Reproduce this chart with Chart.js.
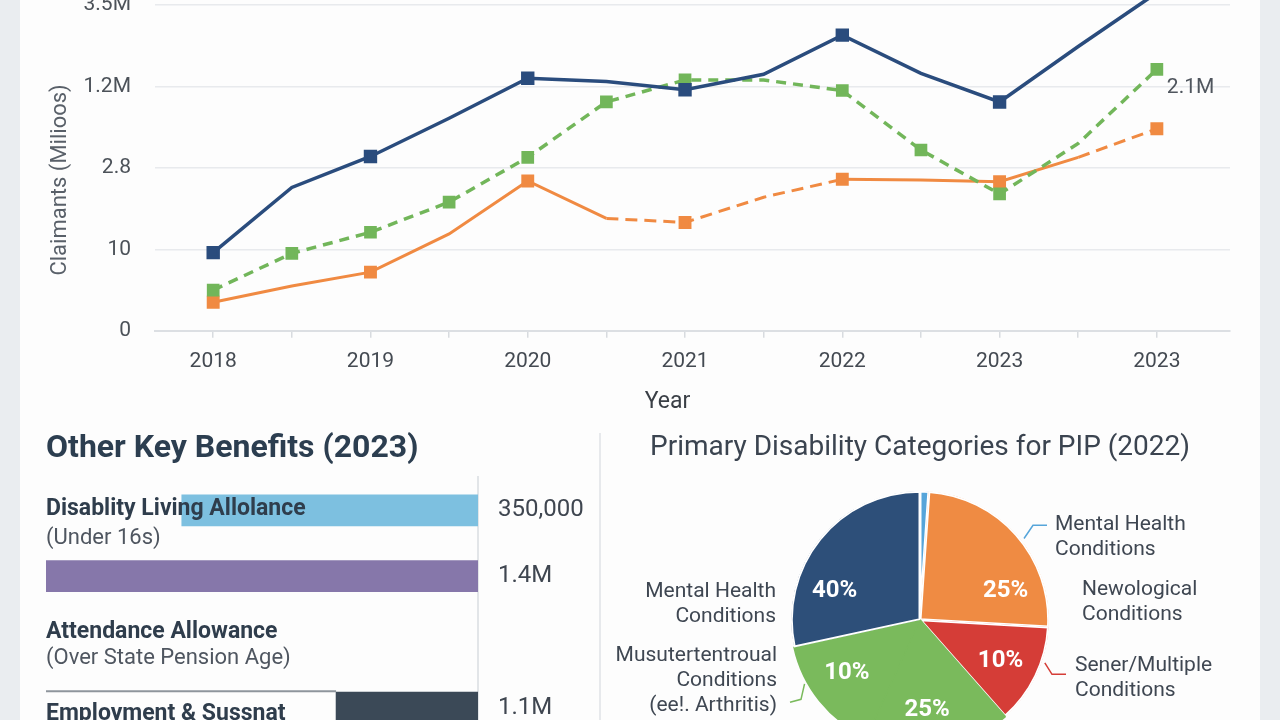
<!DOCTYPE html>
<html>
<head>
<meta charset="utf-8">
<title>Disability benefit claimants</title>
<script src="https://cdn.jsdelivr.net/npm/chart.js@4.4.1/dist/chart.umd.min.js"></script>
<style>
  html, body { margin: 0; padding: 0; }
  body { width: 1280px; height: 720px; overflow: hidden; position: relative; background: #eaedf0; font-family: Roboto, sans-serif; }
  .card { position: absolute; left: 20px; top: 0; width: 1240px; height: 720px; background: #fdfdfd; }
  .box { position: absolute; }
  #trendBox { left: 20px; top: -40px; width: 1240px; height: 460px; }
  #benefitBox { left: 20px; top: 420px; width: 580px; height: 355px; }
  #pieBox { left: 600px; top: 420px; width: 660px; height: 355px; }
  .divider { position: absolute; left: 599px; top: 433px; width: 2px; height: 300px; background: #e7e9ec; }
</style>
</head>
<body>
<div class="card"></div>
<div class="divider"></div>
<div class="box" id="trendBox"><canvas id="trendChart"></canvas></div>
<div class="box" id="benefitBox"><canvas id="benefitChart"></canvas></div>
<div class="box" id="pieBox"><canvas id="pieChart"></canvas></div>
<script>
// Line chart: half-year steps, only full years carry a label
const trendPeriods = ['2018', '', '2019', '', '2020', '', '2021', '', '2022', '', '2023', '', '2023'];
const trendTicks = ['0', '10', '2.8', '1.2M', '3.5M'];
const navySeries = [0.96, 1.76, 2.14, 2.61, 3.10, 3.06, 2.96, 3.15, 3.63, 3.16, 2.81, 3.49, 4.15];
const orangeSeries = [0.35, 0.55, 0.72, 1.19, 1.84, 1.38, 1.33, 1.64, 1.86, 1.85, 1.83, 2.13, 2.48];
const greenSeries = [0.50, 0.95, 1.21, 1.58, 2.13, 2.81, 3.08, 3.08, 2.95, 2.22, 1.68, 2.30, 3.21];
const orangeDashedSegments = [5, 6, 7, 11];
const greenEndLabel = '2.1M';

// Other key benefits (values in millions)
const benefitRows = ['Disablity Living Allolance', '', 'Attendance Allowance', 'Employment & Sussnat'];
const benefitNotes = ['(Under 16s)', '', '(Over State Pension Age)', ''];
const benefitBars = [0.96, 1.40, null, 0.46];
const benefitValueLabels = ['350,000', '1.4M', '', '1.1M'];

// PIP disability categories (share of the circle)
const pieShares = [1.1, 24.8, 12.6, 18.3, 14.8, 28.4];
const piePercentLabels = ['', '25%', '10%', '25%', '10%', '40%'];
const pieCategories = [
  ['Mental Health', 'Conditions'],
  ['Newological', 'Conditions'],
  ['Sener/Multiple', 'Conditions'],
  ['Musutertentroual', 'Conditions', '(ee!. Arthritis)'],
  [],
  ['Mental Health', 'Conditions']
];

Chart.defaults.font.family = 'Roboto, sans-serif';
Chart.defaults.color = '#4a5058';
Chart.defaults.animation = false;

const toPoints = arr => arr.map((y, x) => ({ x, y }));

// axis captions drawn by hand so they can sit off-centre like the original
const axisCaptions = {
  id: 'axisCaptions',
  afterDraw(chart, args, opts) {
    const { ctx, chartArea } = chart;
    ctx.save();
    ctx.textAlign = 'center';
    ctx.textBaseline = 'middle';
    ctx.font = '23px Roboto';
    ctx.fillStyle = '#3a3f46';
    ctx.fillText(opts.xText, (chartArea.left + chartArea.right) / 2 + opts.xShift, chartArea.bottom + opts.xGap);
    ctx.font = '22px Roboto';
    ctx.fillStyle = '#596069';
    ctx.translate(chartArea.left - opts.yGap, (chartArea.top + chartArea.bottom) / 2 + opts.yShift);
    ctx.rotate(-Math.PI / 2);
    ctx.fillText(opts.yText, 0, 0);
    ctx.restore();
  }
};

const endLabel = {
  id: 'endLabel',
  afterDatasetsDraw(chart, args, opts) {
    const pts = chart.getDatasetMeta(opts.dataset).data;
    const last = pts[pts.length - 1];
    const { ctx } = chart;
    ctx.save();
    ctx.font = '21px Roboto';
    ctx.fillStyle = '#50565e';
    ctx.textAlign = 'left';
    ctx.textBaseline = 'middle';
    ctx.fillText(opts.text, last.x + 10, last.y + 18);
    ctx.restore();
  }
};

new Chart(document.getElementById('trendChart'), {
  type: 'line',
  data: {
    datasets: [
      {
        label: 'PIP',
        data: toPoints(navySeries),
        borderColor: '#2a4c7d',
        backgroundColor: '#2a4c7d',
        borderWidth: 3.5,
        pointStyle: 'rect',
        pointRadius: ctx => ctx.dataIndex % 2 === 0 ? 7 : 0,
        clip: false
      },
      {
        label: 'Universal Credit (health)',
        data: toPoints(greenSeries),
        borderColor: '#72b65a',
        backgroundColor: '#72b65a',
        borderWidth: 3.5,
        borderDash: [10, 7],
        pointStyle: 'rect',
        pointRadius: ctx => (ctx.dataIndex === 7 || ctx.dataIndex === 11) ? 0 : 6.5,
        clip: false
      },
      {
        label: 'DLA',
        data: toPoints(orangeSeries),
        borderColor: '#f08a42',
        backgroundColor: '#f08a42',
        borderWidth: 3,
        pointStyle: 'rect',
        pointRadius: ctx => ctx.dataIndex % 2 === 0 ? 7 : 0,
        segment: {
          borderDash: ctx => orangeDashedSegments.includes(ctx.p0DataIndex) ? [12, 7] : undefined
        },
        clip: false
      }
    ]
  },
  options: {
    responsive: true,
    maintainAspectRatio: false,
    layout: { padding: { left: 0, right: 30, top: 45, bottom: 35 } },
    elements: { line: { tension: 0 } },
    scales: {
      x: {
        type: 'linear',
        min: -0.74,
        max: 12.93,
        afterBuildTicks: axis => { axis.ticks = trendPeriods.map((_, i) => ({ value: i })); },
        ticks: {
          callback: v => trendPeriods[v] || '',
          font: { size: 21 },
          color: '#444a52',
          padding: 11,
          autoSkip: false,
          maxRotation: 0
        },
        grid: { drawOnChartArea: false, drawTicks: true, tickLength: 7, color: '#d8dbdf', lineWidth: 1.5 },
        border: { display: true, color: '#dcdfe3', width: 2 }
      },
      y: {
        min: 0,
        max: 4,
        ticks: {
          stepSize: 1,
          callback: v => trendTicks[v],
          font: { size: 21 },
          color: '#4c5259',
          padding: 24
        },
        grid: { color: '#e8eaed', lineWidth: 1.5, drawTicks: false },
        border: { display: false },
        afterFit: axis => { axis.width = 135; }
      }
    },
    plugins: {
      legend: { display: false },
      tooltip: { enabled: false },
      axisCaptions: { xText: 'Year', xShift: -25, xGap: 71, yText: 'Claimants (Milioos)', yGap: 95, yShift: 12 },
      endLabel: { dataset: 1, text: greenEndLabel }
    }
  },
  plugins: [axisCaptions, endLabel]
});

// benefit names are written over the bars, at the left edge of the plot
const rowCaptions = {
  id: 'rowCaptions',
  afterDatasetsDraw(chart, args, opts) {
    const { ctx, chartArea, scales } = chart;
    const bars = chart.getDatasetMeta(0).data;
    ctx.save();
    opts.trackRows.forEach(i => {
      const bar = bars[i];
      ctx.strokeStyle = '#8e959c';
      ctx.lineWidth = 2;
      ctx.beginPath();
      ctx.moveTo(chartArea.left, bar.y - bar.height / 2 - 1);
      ctx.lineTo(bar.x, bar.y - bar.height / 2 - 1);
      ctx.stroke();
    });
    ctx.textAlign = 'left';
    ctx.textBaseline = 'middle';
    benefitRows.forEach((name, i) => {
      const cy = scales.y.getPixelForValue(i);
      const [dyName, dyNote] = opts.offsets[i];
      if (name) {
        ctx.font = 'bold 23px Roboto';
        ctx.fillStyle = '#2f3d4c';
        ctx.fillText(name, chartArea.left, cy + dyName);
      }
      if (benefitNotes[i]) {
        ctx.font = '22px Roboto';
        ctx.fillStyle = '#4f5660';
        ctx.fillText(benefitNotes[i], chartArea.left, cy + dyNote);
      }
    });
    ctx.restore();
  }
};

new Chart(document.getElementById('benefitChart'), {
  type: 'bar',
  data: {
    labels: benefitRows,
    datasets: [{
      label: 'Claimants 2023',
      data: benefitBars,
      backgroundColor: ['#7dc0e0', '#8677aa', 'rgba(0,0,0,0)', '#3b4957'],
      barThickness: 31
    }]
  },
  options: {
    indexAxis: 'y',
    responsive: true,
    maintainAspectRatio: false,
    layout: { padding: { left: 26, right: 0, top: 0, bottom: 0 } },
    scales: {
      x: { type: 'linear', reverse: true, min: 0, max: 1.4, display: false },
      y: {
        position: 'right',
        ticks: {
          callback: (v, i) => benefitValueLabels[i],
          font: { size: 24 },
          color: '#3f4650',
          padding: 20
        },
        grid: { display: true, drawOnChartArea: false, drawTicks: false },
        border: { display: true, color: '#e2e5e8', width: 2 },
        afterFit: axis => { axis.width = 122; }
      }
    },
    plugins: {
      legend: { display: false },
      tooltip: { enabled: false },
      title: {
        display: true,
        text: 'Other Key Benefits (2023)',
        align: 'start',
        color: '#2c3e50',
        font: { size: 32, weight: 'bold' },
        padding: { top: 10, bottom: 9 }
      },
      rowCaptions: { offsets: [[-1, 28], [0, 0], [-10, 17], [7, 0]], trackRows: [3] }
    }
  },
  plugins: [rowCaptions]
});

const pieColors = ['#56a5da', '#ef8b43', '#d53d37', '#7aba5c', '#7aba5c', '#2d4f79'];

const sliceLabels = {
  id: 'sliceLabels',
  afterDatasetsDraw(chart, args, opts) {
    const { ctx } = chart;
    ctx.save();
    ctx.font = 'bold 24px Roboto';
    ctx.fillStyle = '#ffffff';
    ctx.textAlign = 'center';
    ctx.textBaseline = 'middle';
    chart.getDatasetMeta(0).data.forEach((arc, i) => {
      const text = piePercentLabels[i];
      if (!text) return;
      const p = arc.getProps(['x', 'y', 'startAngle', 'endAngle', 'outerRadius'], true);
      const a = (p.startAngle + p.endAngle) / 2 + opts.shift[i] * Math.PI / 180;
      const r = p.outerRadius * opts.radius;
      ctx.fillText(text, p.x + Math.cos(a) * r, p.y + Math.sin(a) * r);
    });
    ctx.restore();
  }
};

const callouts = {
  id: 'callouts',
  afterDraw(chart, args, opts) {
    const { ctx } = chart;
    const arc0 = chart.getDatasetMeta(0).data[0];
    const cx = arc0.x, cy = arc0.y, r = arc0.outerRadius;
    ctx.save();
    ctx.font = '21px Roboto';
    ctx.fillStyle = '#3f4752';
    ctx.textBaseline = 'middle';
    opts.items.forEach(item => {
      const lines = pieCategories[item.slice];
      const left = item.side === 'left';
      const tx = left ? cx - r - item.gap : cx + r + item.gap;
      const ty = cy + item.dy;
      ctx.textAlign = left ? 'right' : 'left';
      lines.forEach((line, k) => ctx.fillText(line, tx, ty + k * opts.lineHeight));
      if (item.leader) {
        const a = (item.leader.angle - 90) * Math.PI / 180;
        ctx.strokeStyle = pieColors[item.slice];
        ctx.lineWidth = 1.5;
        ctx.beginPath();
        ctx.moveTo(cx + Math.cos(a) * (r + 3), cy + Math.sin(a) * (r + 3));
        item.leader.path.forEach(([dx, dy]) => ctx.lineTo(tx + dx, ty + dy));
        ctx.stroke();
      }
    });
    ctx.restore();
  }
};

// the two green slices share a colour, so their common edge is stroked green to hide the seam
const pieBorders = pieColors.map((c, i) => piePercentLabels[i] && pieColors.indexOf(c) !== pieColors.lastIndexOf(c) ? c : '#ffffff');

new Chart(document.getElementById('pieChart'), {
  type: 'pie',
  data: {
    labels: pieCategories.map(l => l.join(' ')),
    datasets: [{
      data: pieShares,
      backgroundColor: pieColors,
      borderColor: pieBorders,
      borderWidth: 1.5,
      borderAlign: pieBorders.map(c => c === '#ffffff' ? 'inner' : 'center'),
      hoverOffset: 0
    }]
  },
  options: {
    responsive: true,
    maintainAspectRatio: false,
    radius: 129,
    layout: { padding: { left: 0, right: 20, top: 0, bottom: 0 } },
    plugins: {
      legend: { display: false },
      tooltip: { enabled: false },
      title: {
        display: true,
        text: 'Primary Disability Categories for PIP (2022)',
        color: '#3b4450',
        font: { size: 28, weight: 'normal' },
        padding: { top: 11, bottom: 0 }
      },
      sliceLabels: { radius: 0.7, shift: [0, 23, 1, 4, 3, -20] },
      callouts: {
        lineHeight: 25,
        items: [
          { slice: 0, side: 'right', gap: 6, dy: -95.5, leader: { angle: 52, path: [[-22, 1], [-8, 1]] } },
          { slice: 1, side: 'right', gap: 33, dy: -30.5 },
          { slice: 2, side: 'right', gap: 26, dy: 45.5, leader: { angle: 109, path: [[-23, 9], [-9, 9]] } },
          { slice: 3, side: 'left', gap: 14, dy: 35.5, leader: { angle: 241, path: [[24, 44], [13, 47]] } },
          { slice: 5, side: 'left', gap: 15, dy: -28.5 }
        ]
      }
    }
  },
  plugins: [sliceLabels, callouts]
});
</script>
</body>
</html>
